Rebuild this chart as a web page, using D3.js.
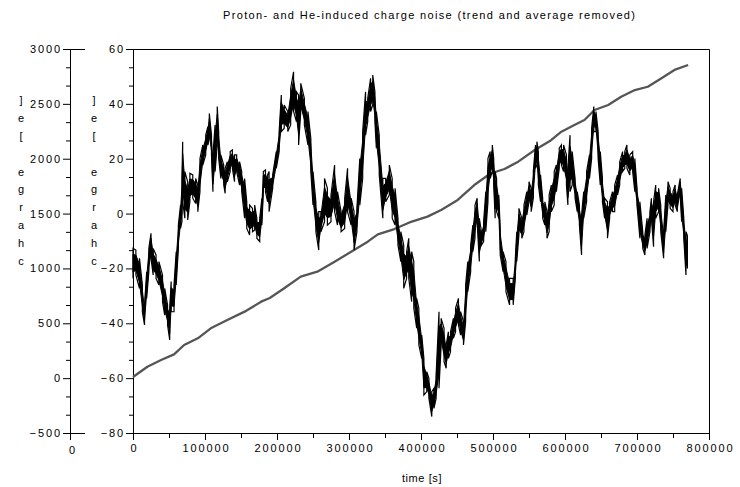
<!DOCTYPE html>
<html>
<head>
<meta charset="utf-8">
<script src="https://cdn.jsdelivr.net/npm/d3@7"></script>
<style>
body { margin: 0; background: #fff; }
text { font-family: "Liberation Sans", Arial, sans-serif; font-size: 11px; fill: #000; }
</style>
</head>
<body>
<script>
(function(){
'use strict';

// charge noise: [time s, lowest charge, highest charge] per column
var noiseRows = [
	[0,-23.6,-12.7],[4000,-22.4,-13.3],[9000,-27.3,-16.3],[13000,-35.8,-26.0],[16000,-40.6,-33.3],
	[19000,-30.9,-21.2],[22000,-21.2,-12.7],[25000,-16.3,-7.2],[28000,-22.4,-12.7],[32000,-23.6,-15.1],
	[36000,-26.0,-17.5],[41000,-32.1,-22.4],[44000,-37.0,-27.3],[48000,-40.6,-33.3],[51000,-46.1,-34.5],
	[53000,-35.8,-24.8],[57000,-35.8,-26.0],[60000,-26.0,-13.9],[63000,-12.7,-4.2],[66000,-5.4,3.1],
	[68000,-3.0,12.8],[69000,4.3,26.2],[72000,-1.7,15.3],[76000,-2.3,11.6],[79000,4.3,14.7],
	[83000,5.6,14.1],[87000,3.7,12.8],[90000,0.7,10.4],[93000,8.0,20.1],[97000,17.7,25.0],
	[101000,21.4,28.6],[104000,25.0,31.7],[106000,27.4,36.5],[109000,21.4,28.6],[111000,8.0,21.4],
	[114000,15.3,32.3],[117000,25.0,39.0],[119000,20.1,29.9],[122000,12.8,21.4],[126000,10.4,17.7],
	[128000,7.4,16.5],[131000,11.6,18.9],[135000,15.3,22.6],[138000,16.5,23.2],[141000,11.6,21.4],
	[144000,15.3,21.4],[148000,10.4,18.9],[151000,8.0,15.3],[155000,-1.7,12.8],[158000,-5.4,4.3],
	[162000,-7.8,3.1],[166000,-6.6,1.9],[169000,-6.0,3.1],[172000,-9.0,-1.7],[176000,-10.2,-1.7],
	[179000,-4.2,5.6],[181000,8.0,15.3],[184000,8.0,15.9],[187000,4.3,14.1],
	[189000,0.7,15.3],[194000,9.2,14.1],[199000,16.5,22.6],[203000,22.6,29.9],[206000,29.9,43.2],
	[210000,31.1,39.6],[215000,29.9,37.2],[219000,32.3,45.7],[223000,37.2,51.7],[227000,33.5,44.4],
	[230000,25.0,43.2],[233000,37.2,47.5],[238000,32.3,42.0],[243000,25.0,37.2],[247000,15.3,27.4],
	[250000,3.1,15.3],[254000,-6.6,4.3],[258000,-13.3,0.7],[261000,-6.6,0.7],[266000,-3.0,12.8],
	[270000,-4.2,9.2],[275000,-3.0,6.8],[280000,0.7,17.7],[284000,-4.2,8.0],[289000,-6.6,0.7],
	[294000,-5.4,5.6],[298000,0.7,16.5],[303000,-4.2,5.6],[307000,-13.3,0.7],[311000,-6.6,1.9],
	[315000,3.1,20.1],[319000,12.8,29.9],[323000,28.6,44.4],[326000,33.5,42.0],[330000,37.2,49.3],
	[333000,39.6,50.5],[336000,33.5,44.4],[338000,23.8,37.2],[342000,14.1,28.6],[347000,-1.7,12.8],
	[351000,4.3,12.8],[356000,6.8,17.7],[360000,-1.7,12.8],[364000,-4.2,9.2],[368000,-11.5,-1.7],
	[372000,-17.5,-6.6],[376000,-27.3,-11.5],[380000,-23.6,-13.9],
	[383000,-23.6,-9.0],[387000,-32.1,-13.9],[390000,-34.5,-17.5],[394000,-41.8,-30.9],[397000,-47.9,-34.5],
	[401000,-52.8,-44.3],[404000,-66.2,-52.8],[408000,-64.9,-57.6],[411000,-67.4,-60.1],[415000,-74.0,-64.9],
	[418000,-71.0,-63.7],[421000,-67.4,-58.9],[425000,-63.7,-35.8],[428000,-47.9,-38.2],[432000,-54.0,-41.8],
	[435000,-56.4,-47.9],[438000,-52.8,-43.1],[441000,-50.4,-43.1],[445000,-45.5,-38.2],[448000,-43.1,-34.5],
	[452000,-40.6,-30.9],[455000,-44.3,-35.8],[459000,-47.9,-39.4],[462000,-39.4,-26.0],[465000,-28.5,-17.5],
	[469000,-21.2,-11.5],[472000,-13.9,-4.2],[475000,-9.0,3.1],[478000,-3.0,5.6],[481000,-17.5,-1.7],
	[484000,-11.5,-6.6],[487000,-10.2,-3.0],[490000,-6.6,8.0],[493000,4.3,20.1],[496000,12.8,22.6],
	[499000,15.3,25.0],[501000,10.4,20.1],[503000,-1.7,15.3],[505000,0.7,12.8],[508000,-1.7,6.8],
	[510000,-15.1,-5.4],[514000,-21.2,-13.9],[518000,-28.5,-17.5],[523000,-33.3,-23.6],[528000,-33.3,-23.6],
	[531000,-23.6,-16.3],[533000,-17.5,-6.6],[536000,-7.8,1.9],[540000,-9.0,-1.7],[543000,-6.6,3.1],
	[547000,-0.5,8.0],[550000,4.3,11.6],[553000,0.7,9.2],[556000,5.6,15.3],[559000,16.5,25.0],
	[561000,17.7,26.2],[563000,10.4,22.6],[566000,4.3,14.1],[569000,-1.7,5.6],[572000,-4.2,4.3],
	[575000,-9.0,0.7],
	[578000,-6.6,6.8],[581000,0.7,10.4],[585000,3.1,15.3],[588000,8.0,17.7],[592000,16.5,23.8],
	[595000,17.7,25.0],[598000,15.3,25.0],[602000,10.4,21.4],[604000,3.1,16.5],[607000,8.0,28.6],
	[610000,10.4,22.6],[614000,5.6,12.8],[617000,0.7,8.0],[620000,-4.2,3.1],[623000,-15.1,-0.5],
	[626000,-1.7,8.0],[630000,4.3,15.3],[634000,12.8,21.4],[637000,20.1,31.1],[640000,29.9,39.0],
	[643000,29.9,37.2],[646000,20.1,29.9],[649000,10.4,22.6],[652000,4.3,12.8],[655000,-1.7,5.6],
	[659000,-9.0,4.3],[662000,-1.7,4.3],[666000,0.7,8.0],[669000,0.7,10.4],[673000,6.8,14.1],
	[676000,10.4,18.9],[680000,15.3,22.6],[683000,16.5,22.6],[686000,16.5,25.0],[690000,14.1,21.4],
	[694000,15.3,22.6],[697000,8.0,20.1],[700000,3.1,9.2],[704000,-9.0,4.3],[708000,-12.7,-6.6],
	[711000,-15.1,-7.8],[714000,-12.7,-1.7],[718000,-6.6,0.7],[720000,-1.7,5.6],[723000,-12.1,4.3],
	[726000,-1.7,10.4],[730000,0.7,9.2],[733000,-6.6,3.1],[737000,-16.3,-6.6],[740000,-6.6,6.8],
	[743000,3.1,11.6],[746000,1.9,9.2],[750000,0.7,8.0],[753000,3.1,10.4],[756000,0.7,6.8],
	[760000,6.8,12.8],[762000,-3.0,9.2],[765000,-9.0,-1.7],[768000,-22.4,-6.6],[770000,-20.0,-8.0]
];

// accumulated charge (grey curve, outer axis): [time s, charge e]
var trendRows = [
	[0,10],[20000,104],[39000,165],[57000,217],[71000,302],[90000,363],[108000,454],[131000,530],
	[155000,606],[178000,697],[190000,730],[210000,819],[233000,925],[256000,970],[280000,1061],
	[307000,1168],[326000,1244],[340000,1311],[363000,1359],[384000,1419],[409000,1472],[428000,1533],
	[451000,1624],[474000,1760],[497000,1867],[516000,1906],[535000,1973],[558000,2079],[579000,2161],
	[595000,2246],[613000,2307],[627000,2353],[641000,2444],[660000,2490],[678000,2565],[697000,2626],
	[715000,2656],[734000,2733],[752000,2809],[771000,2854]
];

var timeTicks = [0, 100000, 200000, 300000, 400000, 500000, 600000, 700000, 800000];
var chargeTicks = [-500, 0, 500, 1000, 1500, 2000, 2500, 3000];
var noiseTicks = [-80, -60, -40, -20, 0, 20, 40, 60];

var titleText = 'Proton- and He-induced charge noise (trend and average removed)';
var xLabel = 'time [s]';
var yLabel = 'charge [e]';

var svg = d3.select('body').append('svg')
	.attr('width', 740)
	.attr('height', 487);

var x = d3.scaleLinear().domain([0, 800000]).range([133, 709]);
var yNoise = d3.scaleLinear().domain([-80, 60]).range([433, 49]);
var yCharge = d3.scaleLinear().domain([-500, 3000]).range([433, 49]);

function minors(ticks, parts){
	var out = [];
	for(var i=0; i<ticks.length-1; i++){
		for(var k=1; k<parts; k++){
			out.push(ticks[i] + (ticks[i+1]-ticks[i])*k/parts);
		}
	}
	return out;
}

function styleAxis(g){
	g.select('.domain').attr('stroke', '#000');
	g.selectAll('.tick line').attr('stroke', '#000');
	g.selectAll('text').style('letter-spacing', '1.9px');
}

// outer axis (charge)
svg.append('g').attr('transform', 'translate(70,0)')
	.call(d3.axisLeft(yCharge).tickValues(minors(chargeTicks, 3)).tickSize(4).tickSizeOuter(0).tickFormat(''))
	.call(styleAxis);
svg.append('g').attr('transform', 'translate(70,0)')
	.call(d3.axisLeft(yCharge).tickValues(chargeTicks).tickSize(7).tickSizeOuter(0).tickPadding(1).tickFormat(d3.format('d')))
	.call(styleAxis);

// little frame stubs of the outer axis
svg.append('g').selectAll('line').data([3000, -500]).enter().append('line')
	.attr('x1', 70).attr('x2', 85)
	.attr('y1', function(d){ return yCharge(d) + 0.5; })
	.attr('y2', function(d){ return yCharge(d) + 0.5; })
	.attr('stroke', '#000');
svg.append('line').attr('x1', 70.5).attr('x2', 70.5).attr('y1', 433).attr('y2', 440).attr('stroke', '#000');
svg.append('text').attr('x', 72).attr('y', 454).attr('text-anchor', 'middle').text('0');

// inner axis (noise)
svg.append('g').attr('transform', 'translate(133,0)')
	.call(d3.axisLeft(yNoise).tickValues(minors(noiseTicks, 3)).tickSize(4).tickSizeOuter(0).tickFormat(''))
	.call(styleAxis);
svg.append('g').attr('transform', 'translate(133,0)')
	.call(d3.axisLeft(yNoise).tickValues(noiseTicks).tickSize(7).tickSizeOuter(0).tickPadding(1).tickFormat(d3.format('d')))
	.call(styleAxis);

// time axis
svg.append('g').attr('transform', 'translate(0,433)')
	.call(d3.axisBottom(x).tickValues(minors(timeTicks, 2)).tickSize(5).tickSizeOuter(0).tickFormat(''))
	.call(styleAxis);
svg.append('g').attr('transform', 'translate(0,433)')
	.call(d3.axisBottom(x).tickValues(timeTicks).tickSize(7).tickSizeOuter(0).tickPadding(4).tickFormat(d3.format('d')))
	.call(styleAxis)
	.selectAll('text').attr('dx', '1px');

// plot frame top and right
svg.append('path')
	.attr('d', 'M' + (x.range()[0]) + ',' + (yNoise(60) + 0.5) + 'H' + (x(800000) + 0.5) + 'V' + (yNoise(-80) + 0.5))
	.attr('fill', 'none')
	.attr('stroke', '#000');

// grey accumulated charge
svg.append('path')
	.datum(trendRows)
	.attr('d', d3.line()
		.x(function(d){ return x(d[0]); })
		.y(function(d){ return yCharge(d[1]); }))
	.attr('fill', 'none')
	.attr('stroke', '#555')
	.attr('stroke-width', 2.3)
	.attr('stroke-linejoin', 'round');

// black noise: a solid core plus a scribble reaching the read extremes
svg.append('path')
	.datum(noiseRows)
	.attr('d', d3.area()
		.x(function(d){ return x(d[0]); })
		.y0(function(d){ return yNoise(d[1] + (d[2]-d[1])*0.2); })
		.y1(function(d){ return yNoise(d[2] - (d[2]-d[1])*0.2); }))
	.attr('fill', '#000')
	.attr('stroke', '#000')
	.attr('stroke-width', 1);

var scribble = [];
noiseRows.forEach(function(d, i){
	if(i % 2 === 0){ scribble.push([d[0], d[1]], [d[0], d[2]]); }
	else { scribble.push([d[0], d[2]], [d[0], d[1]]); }
});
svg.append('path')
	.datum(scribble)
	.attr('d', d3.line()
		.x(function(d){ return x(d[0]); })
		.y(function(d){ return yNoise(d[1]); }))
	.attr('fill', 'none')
	.attr('stroke', '#000')
	.attr('stroke-width', 1.2);

// title and axis labels
svg.append('text').attr('x', 429).attr('y', 19).attr('text-anchor', 'middle')
	.attr('textLength', 412).attr('lengthAdjust', 'spacing')
	.text(titleText);
svg.append('text').attr('x', 422).attr('y', 482).attr('text-anchor', 'middle')
	.style('letter-spacing', '0.6px')
	.text(xLabel);

// the y label is stacked letter by letter, reading upwards
[21, 94].forEach(function(cx){
	var chars = yLabel.split('');
	svg.append('g').selectAll('text').data(chars).enter().append('text')
		.attr('x', cx)
		.attr('y', function(d, i){ return 265 - i*17.9; })
		.attr('text-anchor', 'middle')
		.text(function(d){ return d; });
});

})();
</script>
</body>
</html>
